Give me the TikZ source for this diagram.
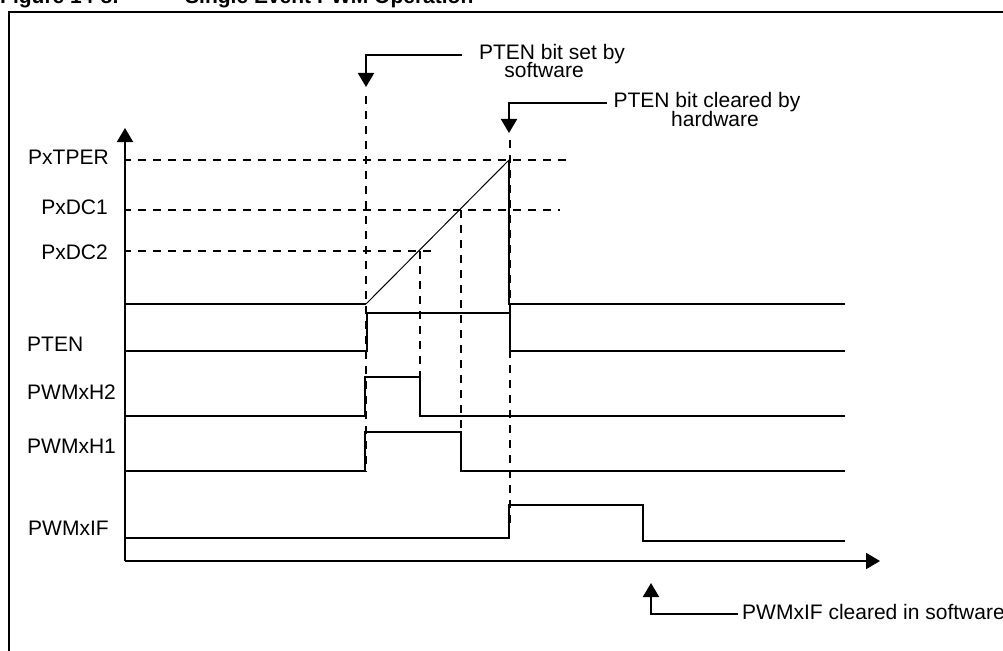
\documentclass[tikz,border=0pt]{standalone}
\usepackage{fontspec}
\setmainfont{Liberation Sans}
\usetikzlibrary{arrows.meta}
\begin{document}
\begin{tikzpicture}[x=1pt,y=-1pt,
  sig/.style={line width=2pt, line join=miter},
  thin/.style={line width=1pt},
  refline/.style={line width=2pt, dash pattern=on 8pt off 7pt},
  tipend/.style={line width=2pt, -{Triangle[length=14pt,width=16pt]}},
  lbl/.style={inner sep=0pt, font=\fontsize{21}{19}\selectfont},
  ttl/.style={inner sep=0pt, font=\fontsize{21}{19}\selectfont\bfseries}]
\useasboundingbox (0,0) rectangle (1003,650);

% title and frame
\node[ttl, anchor=base west] (fig) at (0,3.5) {Figure 14-8:};
\node[ttl, anchor=base west] (title) at (185,3.5) {Single Event PWM Operation};
\draw[line width=2pt] (9,660) -- (9,12) -- (1010,12);

% axes
\coordinate (org) at (125,561);
\coordinate (ytop) at (125,128);
\coordinate (xend) at (880,561);
\draw[tipend] (org) -- (ytop);
\draw[tipend] (org) -- (xend);

% left labels
\node[lbl, anchor=base west] (lper) at (28,164) {PxTPER};
\node[lbl, anchor=base east] (ldc1) at (108,214) {PxDC1};
\node[lbl, anchor=base east] (ldc2) at (108,259) {PxDC2};
\node[lbl, anchor=base west] (lpten) at (27,351) {PTEN};
\node[lbl, anchor=base west] (lh2) at (27,399) {PWMxH2};
\node[lbl, anchor=base west] (lh1) at (27,453) {PWMxH1};
\node[lbl, anchor=base west] (lif) at (28,535) {PWMxIF};

% reference levels
\draw[refline, dash phase=-13pt] (125,160) -- (567,160);
\draw[refline, dash phase=-13pt] (125,210) -- (560,210);
\draw[refline, dash phase=-13pt] (125,251) -- (437,251);

% timer ramp
\draw[sig] (125,304) -- (366,304);
\draw[thin] (366,304) -- (509,160);
\draw[sig] (509,160) -- (509,304) -- (845,304);

% PTEN
\draw[sig] (125,351) -- (367,351) -- (367,313) -- (510,313) -- (510,351) -- (845,351);
% PWMxH2
\draw[sig] (125,416) -- (365,416) -- (365,377) -- (420,377) -- (420,416) -- (845,416);
% PWMxH1
\draw[sig] (125,471) -- (365,471) -- (365,432) -- (461,432) -- (461,471) -- (845,471);
% PWMxIF
\draw[sig] (125,538) -- (509,538) -- (509,505) -- (643,505) -- (643,541) -- (845,541);

% dashed time markers
\draw[refline] (366,96) -- (366,472);
\draw[refline] (420,251) -- (420,377);
\draw[refline] (461,210) -- (461,432);
\draw[refline] (510,140) -- (510,527);

% annotation 1
\node[lbl, anchor=base] (n1a) at (552,59.3) {PTEN bit set by};
\node[lbl, anchor=base] (n1b) at (544,78) {software};
\coordinate (a1s) at (462,55);
\coordinate (a1c) at (366,55);
\coordinate (a1t) at (366,87);
\draw[tipend] (a1s) -- (a1c) -- (a1t);

% annotation 2
\node[lbl, anchor=base] (n2a) at (707,108) {PTEN bit cleared by};
\node[lbl, anchor=base] (n2b) at (715,127) {hardware};
\coordinate (a2s) at (607,103);
\coordinate (a2c) at (509,103);
\coordinate (a2t) at (509,133);
\draw[tipend] (a2s) -- (a2c) -- (a2t);

% annotation 3
\node[lbl, anchor=base west] (n3) at (742,619) {PWMxIF cleared in software};
\coordinate (a3s) at (738,614);
\coordinate (a3c) at (651,614);
\coordinate (a3t) at (651,583);
\draw[tipend] (a3s) -- (a3c) -- (a3t);
\end{tikzpicture}
\end{document}
